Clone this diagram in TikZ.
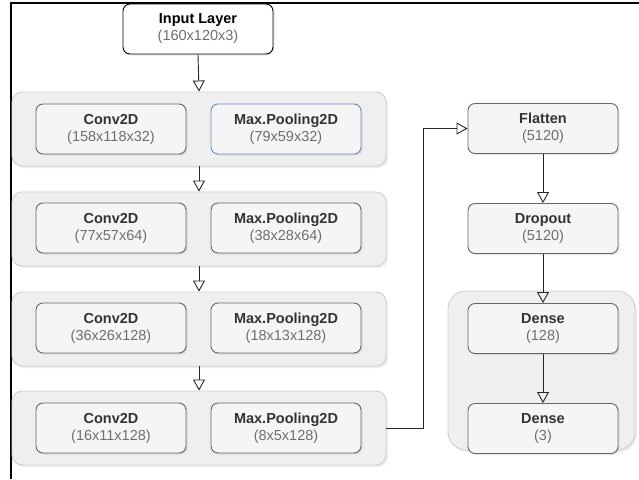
\documentclass[tikz,border=0pt]{standalone}
\usepackage{fontspec}
\setmainfont{Liberation Sans}
\usepackage{tikz}
\usetikzlibrary{arrows.meta, shadows}
\definecolor{grpfill}{RGB}{239, 239, 239}
\definecolor{grpline}{RGB}{208, 208, 208}
\definecolor{boxfill}{RGB}{245, 245, 245}
\definecolor{boxline}{RGB}{102, 102, 102}
\definecolor{poolblue}{RGB}{108, 142, 191}
\definecolor{titlegray}{RGB}{51, 51, 51}
\definecolor{dimgray}{RGB}{110, 110, 110}
\tikzset{
  layerbox/.style={draw=boxline, fill=boxfill, rounded corners=7pt, line width=0.9pt,
    minimum width=150pt, minimum height=50pt, align=center, inner sep=0pt,
    text=titlegray, font=\fontsize{14.5}{17}\selectfont,
    drop shadow={opacity=0.18, shadow xshift=1.5pt, shadow yshift=-1.5pt}},
  groupbox/.style={draw=grpline, fill=grpfill, rounded corners=10pt, line width=0.9pt,
    minimum width=374pt, minimum height=74pt, inner sep=0pt,
    drop shadow={opacity=0.15, shadow xshift=2pt, shadow yshift=-2pt}},
  flow/.style={draw=black!85, line width=0.9pt, -{Triangle[open, length=11pt, width=12pt]}}
}
\newcommand{\layertext}[2]{\textbf{#1}\\{\color{dimgray}#2}}

\begin{document}
\begin{tikzpicture}[x=1pt, y=-1pt]
  \useasboundingbox (0,0) rectangle (639,479);
  % frame of the screenshot
  \draw[line width=1.6pt] (11,479) -- (11,3) -- (639,3);

  % Input
  \node[layerbox, draw=black, fill=white, text=black] (input) at (198,29)
    {\layertext{Input Layer}{(160x120x3)}};

  % Conv / pooling blocks
  \node[groupbox] (grp1) at (199,129) {};
  \node[groupbox] (grp2) at (199,229) {};
  \node[groupbox] (grp3) at (199,329) {};
  \node[groupbox] (grp4) at (199,428) {};

  \node[layerbox] (conv1) at (111,129) {\layertext{Conv2D}{(158x118x32)}};
  \node[layerbox, draw=poolblue] (pool1) at (286,129) {\layertext{Max.Pooling2D}{(79x59x32)}};
  \node[layerbox] (conv2) at (111,228) {\layertext{Conv2D}{(77x57x64)}};
  \node[layerbox] (pool2) at (286,228) {\layertext{Max.Pooling2D}{(38x28x64)}};
  \node[layerbox] (conv3) at (111,328) {\layertext{Conv2D}{(36x26x128)}};
  \node[layerbox] (pool3) at (286,328) {\layertext{Max.Pooling2D}{(18x13x128)}};
  \node[layerbox] (conv4) at (111,428) {\layertext{Conv2D}{(16x11x128)}};
  \node[layerbox] (pool4) at (286,428) {\layertext{Max.Pooling2D}{(8x5x128)}};

  % Dense part
  \node[groupbox, rounded corners=18pt, minimum width=187pt, minimum height=159pt] (dgrp) at (541.5,370.5) {};
  \node[layerbox] (flatten) at (543,128.5) {\layertext{Flatten}{(5120)}};
  \node[layerbox] (dropout) at (543,228.5) {\layertext{Dropout}{(5120)}};
  \node[layerbox] (dense1) at (543,328.5) {\layertext{Dense}{(128)}};
  \node[layerbox] (dense2) at (543,428.5) {\layertext{Dense}{(3)}};

  % Connectors
  \draw[flow] (input.south) -- (grp1.north);
  \draw[flow] (grp1.south) -- (grp2.north);
  \draw[flow] (grp2.south) -- (grp3.north);
  \draw[flow] (grp3.south) -- (grp4.north);
  \draw[flow] (grp4.east) -- ++(37,0) |- (flatten.west);
  \draw[flow] (flatten) -- (dropout);
  \draw[flow] (dropout) -- (dense1);
  \draw[flow] (dense1) -- (dense2);
\end{tikzpicture}
\end{document}
